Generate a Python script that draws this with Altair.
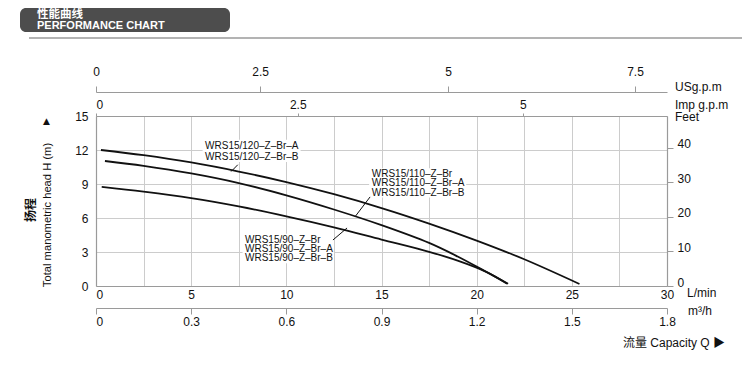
import altair as alt
import pandas as pd

FONT = "Liberation Sans"
MIX = "Liberation Sans, Noto Sans CJK SC, DejaVu Sans"
CJK = "Noto Sans CJK SC"
GRID = "#cccccc"
DOM = "#9a9a9a"
INK = "#111111"

# ---------------- data ----------------
# capacity Q (L/min) and head H (m)
q_120 = [0.26, 2.5, 5, 7.5, 10, 12.5, 15, 17.5, 20, 22.5, 25.4]
h_120 = [12.0, 11.54, 10.9, 10.1, 9.17, 8.1, 6.88, 5.51, 4.01, 2.36, 0.18]
q_110 = [0.47, 2.5, 5, 7.5, 10, 12.5, 15, 17.5, 19, 20.5, 21.65]
h_110 = [11.03, 10.6, 9.93, 9.08, 8.0, 6.75, 5.37, 3.8, 2.6, 1.25, 0.2]
q_90 = [0.3, 2.5, 5, 7.5, 10, 12.5, 15, 17.5, 19, 20.5, 21.6]
h_90 = [8.74, 8.32, 7.75, 7.02, 6.15, 5.18, 4.1, 3.02, 2.24, 1.25, 0.2]

lmin_grid = [0, 2.5, 5, 7.5, 10, 12.5, 15, 17.5, 20, 22.5, 25, 27.5, 30]
lmin_major = [0, 5, 10, 15, 20, 25, 30]
m3h_labels = ["0", "0.3", "0.6", "0.9", "1.2", "1.5", "1.8"]
usgpm_labels = ["0", "2.5", "5", "7.5"]
usgpm_at_lmin = [0, 8.62, 18.5, 28.32]
imp_labels = ["0", "2.5", "5"]
imp_at_lmin = [0, 10.6, 22.42]
head_ticks = [0, 3, 6, 9, 12, 15]
feet_ticks = [0, 10, 20, 30, 40]
FT = 0.3048

names_120 = ["WRS15/120–Z–Br–A", "WRS15/120–Z–Br–B"]
names_110 = ["WRS15/110–Z–Br", "WRS15/110–Z–Br–A", "WRS15/110–Z–Br–B"]
names_90 = ["WRS15/90–Z–Br", "WRS15/90–Z–Br–A", "WRS15/90–Z–Br–B"]

# ---------------- tables ----------------
rows = []
for name, qs, hs in [("120", q_120, h_120), ("110", q_110, h_110), ("90", q_90, h_90)]:
    for q, h in zip(qs, hs):
        rows.append({"model": name, "q": q, "h": h})
curve_df = pd.DataFrame(rows)

lab_rows = []
for names, x0, ys0 in [(names_120, 5.73, [12.36, 11.36]),
                       (names_110, 14.49, [9.885, 9.06, 8.23]),
                       (names_90, 7.83, [4.06, 3.27, 2.44])]:
    for n, yy in zip(names, ys0):
        lab_rows.append({"q": x0, "h": yy, "txt": n})
lab_df = pd.DataFrame(lab_rows)

bg_df = pd.DataFrame({"q1": [5.6, 14.35, 7.7], "q2": [10.75, 19.45, 12.5],
                      "h1": [10.95, 7.8, 2.0], "h2": [12.9, 10.4, 4.6]})
lead_df = pd.DataFrame({"q1": [7.1, 13.6, 12.45], "q2": [7.45, 14.4, 13.19],
                        "h1": [10.1, 6.09, 4.06], "h2": [10.7, 7.86, 5.12]})

dummy = pd.DataFrame({"k": [0]})

W, H = 571, 170
xs = alt.Scale(domain=[0, 30], nice=False, zero=False)
ys = alt.Scale(domain=[0, 15], nice=False, zero=False)


def num_list(v):
    return "[" + ",".join(repr(float(x)) for x in v) + "]"


def str_list(v):
    return "[" + ",".join("'" + s + "'" for s in v) + "]"


def map_expr(pos, labels):
    return f"{str_list(labels)}[indexof({num_list(pos)}, datum.value)]"


left0 = {"condition": {"test": "datum.value == 0", "value": "left"}, "value": "center"}

# ---------------- layers ----------------
curves = alt.Chart(curve_df).mark_line(color=INK, strokeWidth=1.8, interpolate="catmull-rom").encode(
    x=alt.X("q:Q", scale=xs, axis=alt.Axis(
        orient="bottom", values=lmin_grid, title=None, grid=True, gridColor=GRID, ticks=False,
        labelExpr=f"indexof({num_list(lmin_major)}, datum.value) >= 0 ? datum.label : ''",
        labelPadding=3, labelFlush=False, labelOverlap=False, labelAlign=left0, domainColor=DOM)),
    y=alt.Y("h:Q", scale=ys, axis=alt.Axis(
        orient="left", values=head_ticks, title=None, grid=True, gridColor=GRID, ticks=False,
        labelPadding=8, labelOverlap=False, domainColor=DOM)),
    detail="model:N",
)

m3h_layer = alt.Chart(pd.DataFrame({"q": lmin_major})).mark_point(opacity=0).encode(
    x=alt.X("q:Q", scale=xs, axis=alt.Axis(
        orient="bottom", offset=22, values=lmin_major, title=None, grid=False,
        labelExpr=map_expr(lmin_major, m3h_labels), tickSize=6, labelPadding=2,
        labelFlush=False, labelOverlap=False, labelAlign=left0)),
)

us_layer = alt.Chart(pd.DataFrame({"q": usgpm_at_lmin})).mark_point(opacity=0).encode(
    x=alt.X("q:Q", scale=xs, axis=alt.Axis(
        orient="top", offset=24, values=usgpm_at_lmin, title=None, grid=False,
        labelExpr=map_expr(usgpm_at_lmin, usgpm_labels), tickSize=6, labelPadding=8,
        labelFlush=False, labelOverlap=False)),
)

imp_layer = alt.Chart(pd.DataFrame({"q": imp_at_lmin})).mark_point(opacity=0).encode(
    x=alt.X("q:Q", scale=xs, axis=alt.Axis(
        orient="top", offset=0, values=imp_at_lmin, title=None, grid=False,
        labelExpr=map_expr(imp_at_lmin, imp_labels), tickSize=3, labelPadding=2,
        labelFlush=False, labelOverlap=False, labelAlign=left0)),
)

feet_pos = [round(f * FT, 4) for f in feet_ticks]
feet_layer = alt.Chart(pd.DataFrame({"h": feet_pos})).mark_point(opacity=0).encode(
    y=alt.Y("h:Q", scale=ys, axis=alt.Axis(
        orient="right", values=feet_pos, title=None, grid=False,
        labelExpr=map_expr(feet_pos, [str(f) for f in feet_ticks]), tickSize=6,
        labelPadding=4, labelBaseline="alphabetic", labelOverlap=False)),
)

bg = alt.Chart(bg_df).mark_rect(color="white").encode(
    x=alt.X("q1:Q", scale=xs, axis=None), x2="q2",
    y=alt.Y("h1:Q", scale=ys, axis=None), y2="h2",
)

leaders = alt.Chart(lead_df).mark_rule(color=INK, strokeWidth=1).encode(
    x=alt.X("q1:Q", scale=xs, axis=None), x2="q2",
    y=alt.Y("h1:Q", scale=ys, axis=None), y2="h2",
)

labels = alt.Chart(lab_df).mark_text(font=FONT, fontSize=10, color=INK, align="left",
                                     baseline="middle").encode(
    x=alt.X("q:Q", scale=xs, axis=None),
    y=alt.Y("h:Q", scale=ys, axis=None),
    text="txt:N",
)


def ptext(txt, px, py, size=12, font=FONT, weight="normal", color=INK, align="left",
          angle=0):
    kw = dict(text=txt, fontSize=size, font=font, fontWeight=weight, color=color,
              align=align, baseline="middle")
    if angle:
        kw["angle"] = angle
    return alt.Chart(dummy).mark_text(**kw).encode(x=alt.value(px), y=alt.value(py))


header_box = alt.Chart(dummy).mark_rect(color="#4d4d4d", cornerRadius=6).encode(
    x=alt.value(-76), x2=alt.value(134), y=alt.value(-108), y2=alt.value(-84))
header_line = alt.Chart(dummy).mark_rule(color="#9a9a9a", strokeWidth=1.5).encode(
    x=alt.value(-67), x2=alt.value(646), y=alt.value(-78))

texts = [
    ptext("性能曲线", -59, -101, size=11.5, font=CJK, weight="bold", color="white"),
    ptext("PERFORMANCE CHART", -59, -90.5, size=11, weight="bold", color="white"),
    ptext("USg.p.m", 579, -28.7),
    ptext("Imp g.p.m", 579, -11.5),
    ptext("Feet", 579, 1),
    ptext("L/min", 591, 176.7),
    ptext("m³/h", 592, 194.7),
    ptext("流量 Capacity Q ▶", 527, 226.7, font=MIX),
    ptext("Total manometric head H (m)", -48, 99, size=11.2, align="center", angle=270),
    ptext("扬程", -65, 94, size=12, font=CJK, weight="bold", align="center", angle=270),
    ptext("▲", -49.5, 4.5, size=9, font="DejaVu Sans", align="center"),
]

chart = alt.layer(
    curves, m3h_layer, us_layer, imp_layer, feet_layer, bg, leaders, labels,
    header_box, header_line, *texts
).resolve_axis(x="independent", y="independent").properties(
    width=W, height=H,
    padding={"left": 88, "top": 108, "right": 75, "bottom": 91},
    autosize=alt.AutoSizeParams(type="none"),
).configure_axis(
    labelFont=FONT, labelFontSize=12, labelColor=INK, domainColor=DOM, tickColor=DOM,
    gridColor=GRID, domainWidth=1.2,
).configure_view(stroke=None)

chart.save("out.html", embed_options={"renderer": "svg", "actions": False})
